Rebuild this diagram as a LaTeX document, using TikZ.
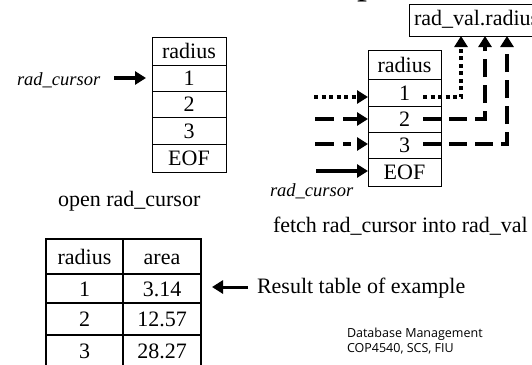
\documentclass[tikz,border=0pt]{standalone}
\usepackage{fontspec}
\setmainfont{Liberation Serif}
\newfontfamily\notefont{Open Sans}
\usetikzlibrary{arrows.meta}
\begin{document}
\begin{tikzpicture}[x=1pt,y=-1pt,
  every node/.style={inner sep=0pt, outer sep=0pt},
  cellbox/.style={draw, line width=0.9pt, font=\fontsize{22}{26}\selectfont, text height=15pt, text depth=0pt, anchor=center},
  tabcell/.style={draw, line width=1.8pt, font=\fontsize{22}{26}\selectfont, text height=15pt, text depth=0pt, anchor=center},
  lbl/.style={font=\fontsize{22}{26}\selectfont, anchor=base west},
  ital/.style={font=\fontsize{18.5}{22}\selectfont\itshape, anchor=base west},
  note/.style={font=\notefont\fontsize{12.5}{15}\selectfont, anchor=base west},
  tip/.style={-{Triangle[width=13pt,length=11pt]}},
  solidarrow/.style={tip, line width=4pt},
  dotconn/.style={line width=4pt, dash pattern=on 4pt off 3.5pt},
  dashconn/.style={line width=4pt, dash pattern=on 18pt off 8pt},
]
\useasboundingbox (0,0) rectangle (532,364);
\clip (0,0) rectangle (532,364);

% partial title glyph
\node[anchor=base west, font=\fontsize{40}{44}\selectfont] (title) at (357,-6.5) {p};

% ---------- left: open cursor ----------
\node[cellbox, minimum width=74pt, minimum height=28pt] (L0) at (189,51) {radius};
\node[cellbox, minimum width=74pt, minimum height=26pt] (L1) at (189,78) {1};
\node[cellbox, minimum width=74pt, minimum height=26pt] (L2) at (189,104) {2};
\node[cellbox, minimum width=74pt, minimum height=27pt] (L3) at (189,130.5) {3};
\node[cellbox, minimum width=74pt, minimum height=28pt] (L4) at (189,158) {EOF};
\node[ital] (lcur) at (17,85) {rad\_cursor};
\coordinate (la) at (114,78);
\coordinate (lt) at (146,78);
\draw[solidarrow] (la) -- (lt);
\node[lbl] (open) at (58,206) {open rad\_cursor};

% ---------- right: fetch ----------
\node[cellbox, minimum width=73pt, minimum height=29pt] (R0) at (404.5,64.5) {radius};
\node[cellbox, minimum width=73pt, minimum height=27pt] (R1) at (404.5,92.5) {1};
\node[cellbox, minimum width=73pt, minimum height=26pt] (R2) at (404.5,119) {2};
\node[cellbox, minimum width=73pt, minimum height=26pt] (R3) at (404.5,145) {3};
\node[cellbox, minimum width=73pt, minimum height=28pt] (R4) at (404.5,172) {EOF};
\node[draw, line width=0.9pt, anchor=west, minimum height=32pt, inner xsep=5pt,
      font=\fontsize{22}{26}\selectfont, text height=15pt, text depth=4pt] (rv) at (409,20) {rad\_val.radius};

% incoming cursor arrows
\coordinate (i1) at (314,97);
\coordinate (i2) at (315,119);
\coordinate (i3) at (315,144);
\coordinate (i4) at (316,171);
\draw[dotconn, tip] (i1) -- (i1 -| R1.west);
\draw[dashconn, dash pattern=on 19pt off 9pt, tip] (i2) -- (i2 -| R2.west);
\draw[dashconn, dash pattern=on 19pt off 9pt on 8pt off 30pt, tip] (i3) -- (i3 -| R3.west);
\draw[solidarrow] (i4) -- (i4 -| R4.west);
\node[ital] (rcur) at (270,196) {rad\_cursor};

% connectors to rad_val.radius
\coordinate (s1) at (423,97);
\coordinate (s2) at (423,119);
\coordinate (s3) at (423,144);
\coordinate (e1) at (461,36);
\coordinate (e2) at (485,36);
\coordinate (e3) at (507,36);
\draw[dotconn, tip] (s1) -| (e1);
\draw[dashconn, tip] (s2) -| (e2);
\draw[dashconn, tip] (s3) -| (e3);

\node[lbl] (fetch) at (273,232) {fetch rad\_cursor into rad\_val};

% ---------- result table ----------
\node[tabcell, minimum width=77pt, minimum height=35pt] (T00) at (84.5,256.5) {radius};
\node[tabcell, minimum width=78pt, minimum height=35pt] (T01) at (162,256.5) {area};
\node[tabcell, minimum width=77pt, minimum height=29pt] (T10) at (84.5,288.5) {1};
\node[tabcell, minimum width=78pt, minimum height=29pt] (T11) at (162,288.5) {3.14};
\node[tabcell, minimum width=77pt, minimum height=32pt] (T20) at (84.5,319) {2};
\node[tabcell, minimum width=78pt, minimum height=32pt] (T21) at (162,319) {12.57};
\node[tabcell, minimum width=77pt, minimum height=32pt] (T30) at (84.5,351) {3};
\node[tabcell, minimum width=78pt, minimum height=32pt] (T31) at (162,351) {28.27};

\coordinate (ra) at (248,287);
\coordinate (rt) at (212,287);
\draw[tip, line width=3pt] (ra) -- (rt);
\node[lbl] (res) at (257,293) {Result table of example};

\node[note] (n1) at (347,337) {Database Management};
\node[note] (n2) at (347,352) {COP4540, SCS, FIU};
\end{tikzpicture}
\end{document}
